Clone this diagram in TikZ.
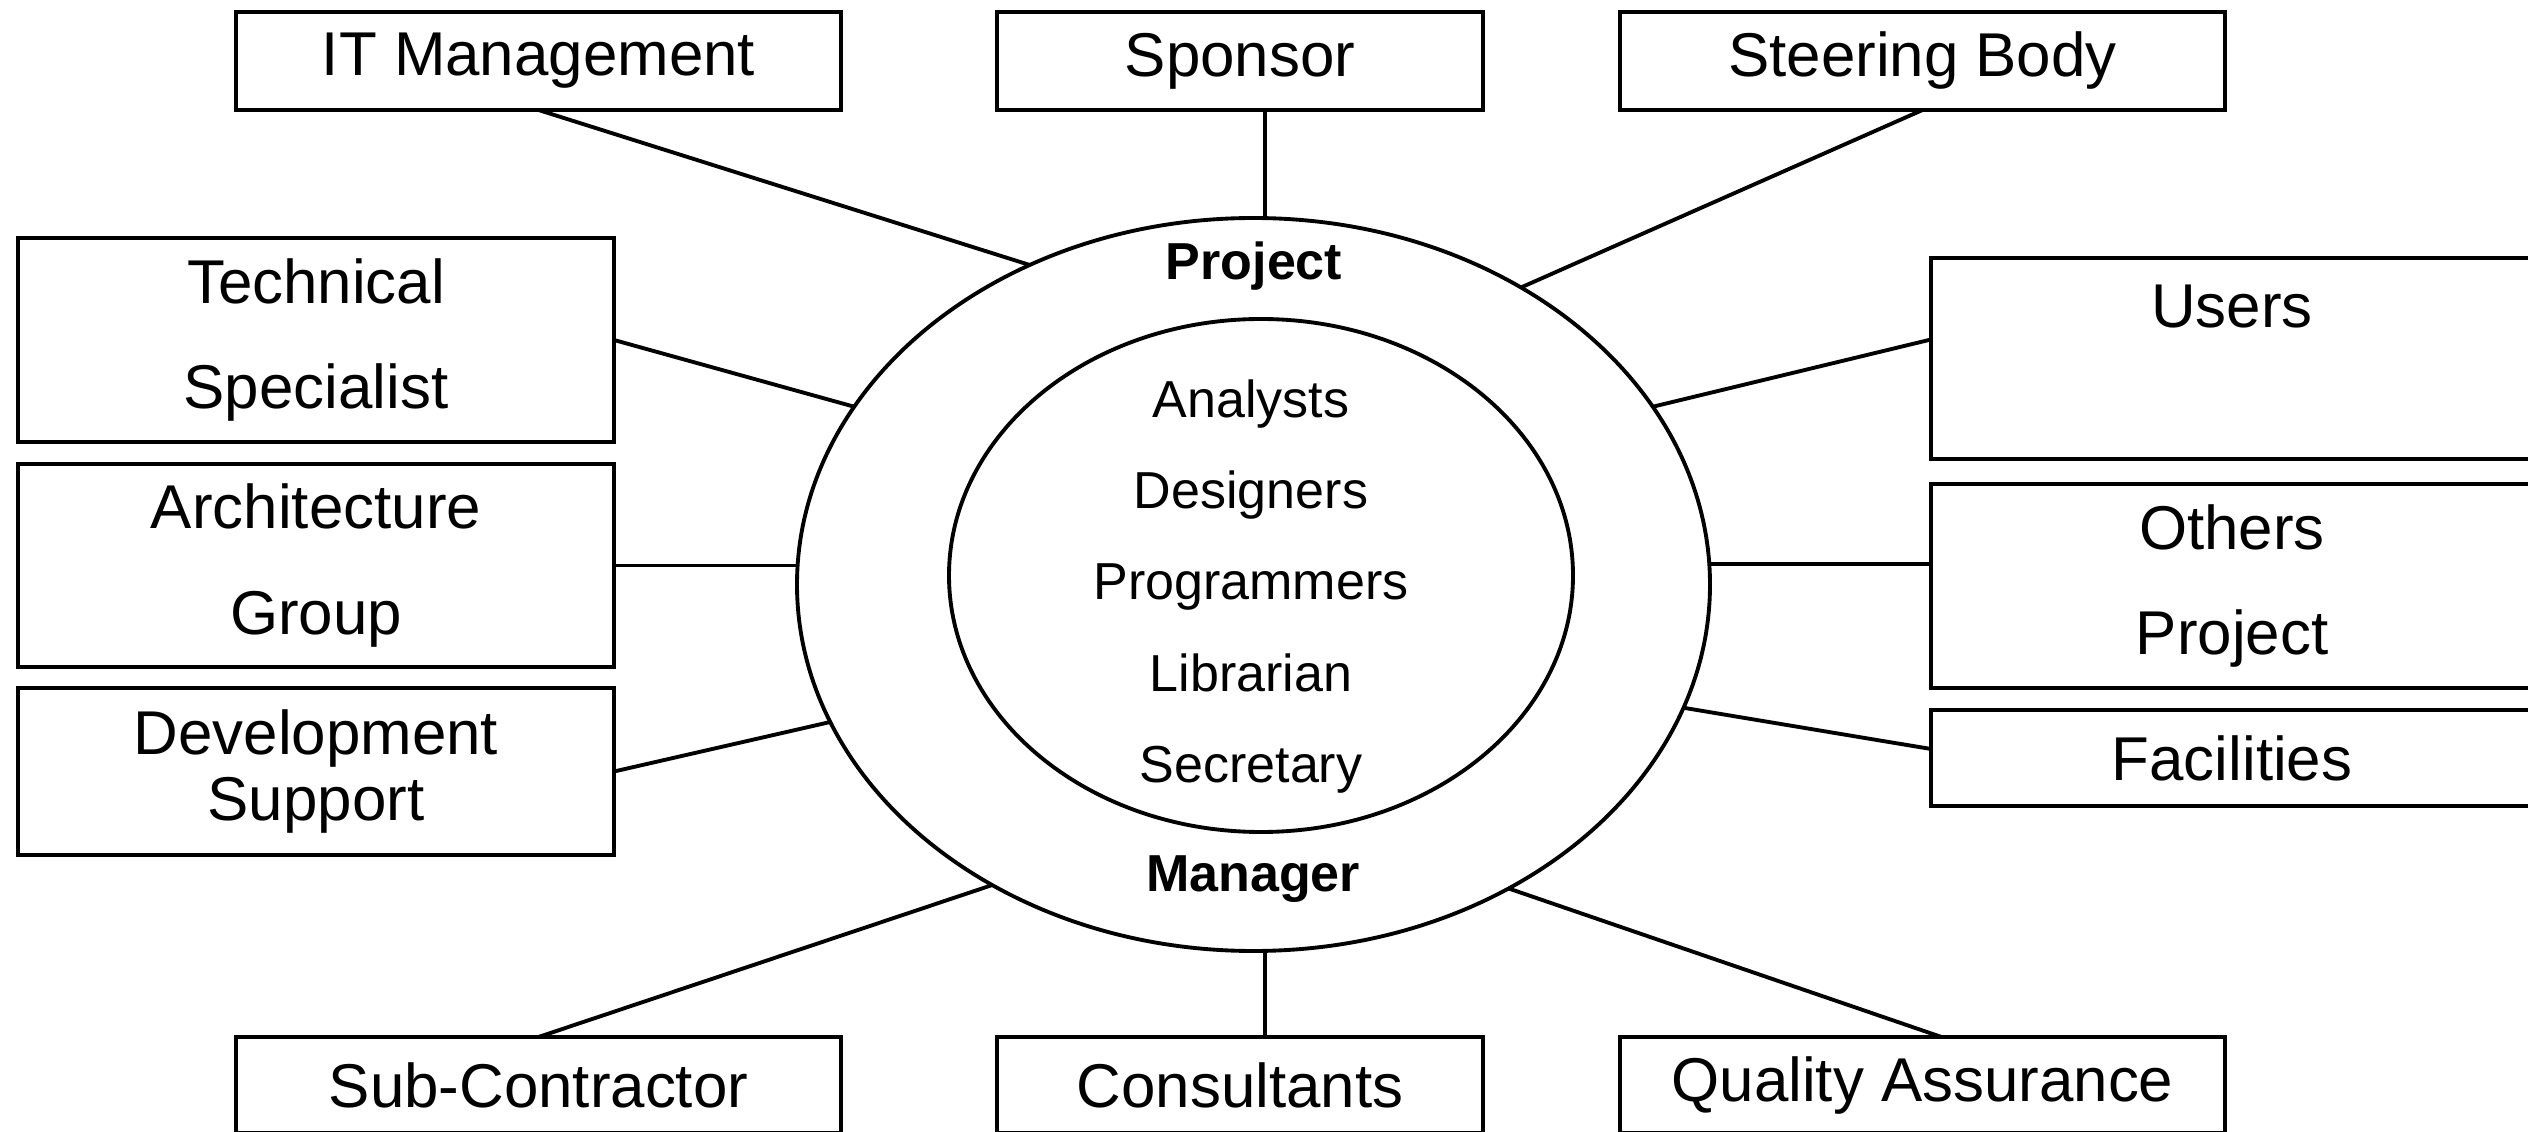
\documentclass[tikz,border=0pt]{standalone}
\usepackage{fontspec}
\setmainfont{Liberation Sans}
\usetikzlibrary{shapes.geometric}
\begin{document}
\begin{tikzpicture}[
  rolebox/.style={draw, line width=1.15pt, inner sep=0pt, outer sep=0pt, align=center,
    font=\fontsize{17.6}{30}\selectfont},
  ringline/.style={draw, ellipse, line width=1.1pt, inner sep=0pt, outer sep=0pt},
  spoke/.style={line width=1.1pt},
  staff/.style={anchor=base, font=\fontsize{14.8}{18}\selectfont},
  chief/.style={anchor=base, font=\fontsize{14.8}{18}\selectfont\bfseries}]
\def\WIDE{6.05cm};\def\MID{4.86cm};\def\SIDE{5.96cm};
\useasboundingbox (0,0) rectangle (25.28,-11.32);
\node[ringline, minimum width=9.13cm, minimum height=7.33cm] (outer) at (12.535,-5.845) {};
\node[ringline, minimum width=6.24cm, minimum height=5.13cm] (inner) at (12.61,-5.755) {};
\node[chief] (proj) at (12.54,-2.80) {Project};
\node[chief] (mgr) at (12.53,-8.91) {Manager};
\foreach \who [count=\i] in {Analysts,Designers,Programmers,Librarian,Secretary}
  \node[staff] (staff\i) at (12.51,{-4.18-0.91*(\i-1)}) {\who};
\node[rolebox, minimum width=\WIDE, minimum height=0.98cm] (itm) at (5.385,-0.61) {IT Management};
\node[rolebox, minimum width=\MID, minimum height=0.98cm] (spon) at (12.40,-0.61) {Sponsor};
\node[rolebox, minimum width=\WIDE, minimum height=0.98cm] (steer) at (19.225,-0.61) {Steering Body};
\node[rolebox, minimum width=\SIDE, minimum height=2.04cm] (tech) at (3.16,-3.40) {Technical\\Specialist};
\node[rolebox, minimum width=\SIDE, minimum height=2.03cm] (arch) at (3.16,-5.655) {Architecture\\Group};
\node[rolebox, minimum width=\SIDE, minimum height=1.67cm, font=\fontsize{17.6}{19}\selectfont] (dev) at (3.16,-7.715) {Development\\Support};
\node[rolebox, minimum width=6.02cm, minimum height=2.01cm] (users) at (22.32,-3.585) {Users\\\mbox{}};
\node[rolebox, minimum width=6.02cm, minimum height=2.04cm] (others) at (22.32,-5.86) {Others\\Project};
\node[rolebox, minimum width=6.02cm, minimum height=0.96cm] (fac) at (22.32,-7.58) {Facilities};
\node[rolebox, minimum width=\WIDE, minimum height=0.965cm] (sub) at (5.385,-10.8525) {Sub-Contractor};
\node[rolebox, minimum width=\MID, minimum height=0.965cm] (cons) at (12.40,-10.8525) {Consultants};
\node[rolebox, minimum width=\WIDE, minimum height=0.965cm] (qa) at (19.225,-10.8525) {Quality Assurance};
\draw[spoke] (itm.south) -- (outer.125);
\draw[spoke] ([xshift=2.5mm]spon.south) -- ([xshift=2.5mm]spon.south |- outer.north);
\draw[spoke] (steer.south) -- (outer.48);
\draw[spoke] (tech.east) -- (outer.156);
\draw[spoke] (arch.east) -- (arch.east -| outer.west);
\draw[spoke] (dev.east) -- (outer.198);
\draw[spoke] ([yshift=1.9mm]users.west) -- (outer.24);
\draw[spoke] ([yshift=2.2mm]others.west) -- ([yshift=2.2mm]others.west -| outer.east);
\draw[spoke] ([yshift=0.9mm]fac.west) -- (outer.344);
\draw[spoke] (sub.north) -- (outer.229);
\draw[spoke] ([xshift=2.5mm]cons.north) -- ([xshift=2.5mm]cons.north |- outer.south);
\draw[spoke] ([xshift=1.9mm]qa.north) -- (outer.310);
\end{tikzpicture}
\end{document}
